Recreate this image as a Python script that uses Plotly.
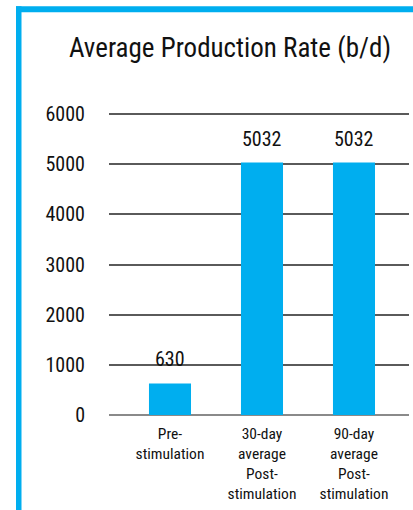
import plotly.graph_objects as go

categories = ["Pre-<br>stimulation",
              "30-day<br>average<br>Post-<br>stimulation",
              "90-day<br>average<br>Post-<br>stimulation"]
values = [630, 5032, 5032]
y_ticks = [0, 1000, 2000, 3000, 4000, 5000, 6000]

FONT = "Roboto Condensed, Roboto, sans-serif"
BLUE = "#00AEEF"

W, H = 413, 510
L, R, T, B = 109, 4, 104, 94.5
pw = W - L - R
ph = H - T - B

def px_x(px):
    return (px - L) / pw

def px_y(py):
    return (H - B - py) / ph

fig = go.Figure()
fig.add_trace(go.Bar(
    x=list(range(len(categories))), y=values,
    marker=dict(color=BLUE, line=dict(width=0)),
    width=0.457,
    hoverinfo="skip",
))

for i, v in enumerate(values):
    fig.add_annotation(x=i, y=v, text=str(v), showarrow=False,
                       yanchor="bottom", yshift=10,
                       font=dict(family=FONT, size=20, color="#111111"))

fig.update_layout(
    width=W, height=H,
    margin=dict(l=L, r=R, t=T, b=B, pad=0),
    paper_bgcolor="white", plot_bgcolor="white",
    showlegend=False,
    title=dict(text="Average Production Rate (b/d)",
               xref="container", yref="container",
               x=230 / W, xanchor="center",
               y=1 - 48 / H, yanchor="middle",
               font=dict(family=FONT, size=27, color="#111111")),
    xaxis=dict(range=[-0.663, 2.598], tickmode="array",
               tickvals=list(range(len(categories))), ticktext=categories,
               showgrid=False, zeroline=False, showline=False,
               ticks="outside", ticklen=4, tickcolor="rgba(0,0,0,0)",
               tickfont=dict(family=FONT, size=15.5, color="#111111")),
    yaxis=dict(range=[0, 6200], tickmode="array", tickvals=y_ticks,
               showgrid=True, gridcolor="#5a5a5a", gridwidth=1.5,
               zeroline=True, zerolinecolor="#8a8a8a", zerolinewidth=2,
               showline=False,
               ticks="outside", ticklen=19, tickcolor="rgba(0,0,0,0)",
               tickfont=dict(family=FONT, size=20, color="#111111")),
    shapes=[
        dict(type="rect", xref="paper", yref="paper",
             x0=px_x(16), x1=px_x(21.5), y0=px_y(530), y1=px_y(6),
             fillcolor=BLUE, line=dict(width=0), layer="above"),
        dict(type="rect", xref="paper", yref="paper",
             x0=px_x(16), x1=px_x(430), y0=px_y(12), y1=px_y(6),
             fillcolor=BLUE, line=dict(width=0), layer="above"),
    ],
)

fig.write_html("out.html")
